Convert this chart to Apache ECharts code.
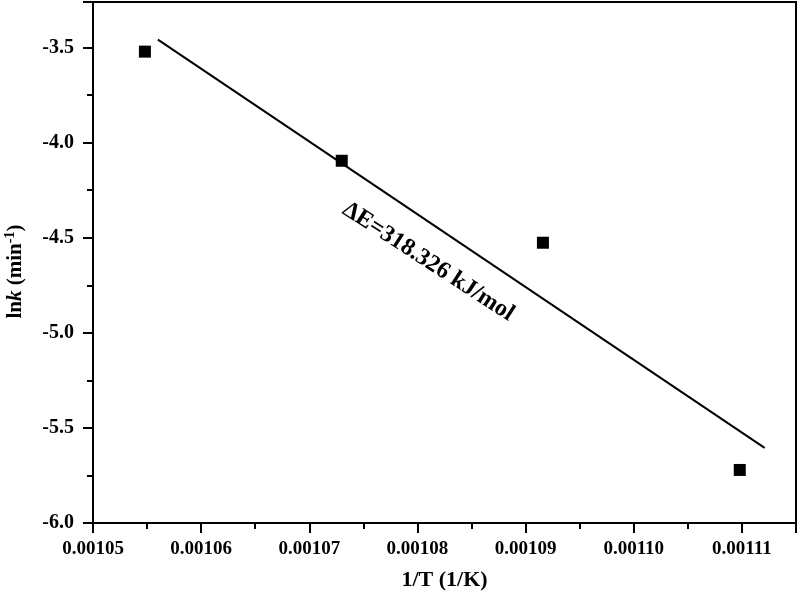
<!DOCTYPE html>
<html>
<head>
<meta charset="utf-8">
<script src="https://cdn.jsdelivr.net/npm/echarts@6/dist/echarts.min.js"></script>
<style>
  html, body { margin: 0; padding: 0; background: #fff; }
  #chart { width: 801px; height: 602px; }
</style>
</head>
<body>
<div id="chart"></div>
<script>
  // measured points: 1/T (1/K) vs ln k
  const invT = [0.0010548, 0.0010730, 0.0010916, 0.0011098];
  const lnK = [-3.521, -4.095, -4.526, -5.721];
  // linear fit line end points
  const fitX = [0.0010560, 0.0011121];
  const fitY = [-3.458, -5.605];
  // annotation
  const noteText = 'ΔE=318.326 kJ/mol';
  const notePos = [0.0010810, -4.626];

  const font = 'Liberation Serif';
  const chart = echarts.init(document.getElementById('chart'));

  chart.setOption({
    animation: false,
    grid: {
      left: 93, right: 5, top: 2, bottom: 79,
      outerBoundsMode: 'none',
      containLabel: false,
      show: true, borderColor: '#000', borderWidth: 2
    },
    xAxis: {
      type: 'value',
      min: 0.00105,
      max: 0.001115,
      interval: 0.00001,
      name: '1/T (1/K)',
      nameLocation: 'middle',
      nameGap: 46,
      nameTextStyle: { fontFamily: font, fontWeight: 'bold', fontSize: 22, color: '#000' },
      axisLine: { lineStyle: { color: '#000', width: 2 } },
      axisTick: { length: 10, lineStyle: { width: 2, color: '#000' } },
      minorTick: { show: true, splitNumber: 2, length: 6, lineStyle: { width: 2, color: '#000' } },
      splitLine: { show: false },
      axisLabel: {
        margin: 17, showMaxLabel: false,
        fontFamily: font, fontWeight: 'bold', fontSize: 19, color: '#000',
        formatter: v => v.toFixed(5)
      }
    },
    yAxis: {
      type: 'value',
      min: -6,
      max: -3.26,
      interval: 0.5,
      name: '{b|ln}{i|k}{b| (min}{s|-1}{b|)}',
      nameLocation: 'middle',
      nameRotate: 90,
      nameGap: 64,
      nameTextStyle: {
        fontFamily: font, fontWeight: 'bold', fontSize: 21, color: '#000',
        padding: [0, 18, 0, 0],
        rich: {
          b: { fontFamily: font, fontWeight: 'bold', fontSize: 21, color: '#000' },
          i: { fontFamily: font, fontWeight: 'bold', fontStyle: 'italic', fontSize: 21, color: '#000' },
          s: { fontFamily: font, fontWeight: 'bold', fontSize: 14, color: '#000', padding: [0, 0, 12, 0] }
        }
      },
      axisLine: { lineStyle: { color: '#000', width: 2 } },
      axisTick: { length: 10, lineStyle: { width: 2, color: '#000' } },
      minorTick: { show: true, splitNumber: 2, length: 6, lineStyle: { width: 2, color: '#000' } },
      splitLine: { show: false },
      axisLabel: {
        margin: 19, showMaxLabel: false,
        fontFamily: font, fontWeight: 'bold', fontSize: 20, color: '#000',
        formatter: v => v.toFixed(1)
      }
    },
    series: [
      {
        name: 'data',
        type: 'scatter',
        symbol: 'rect',
        symbolSize: 12,
        itemStyle: { color: '#000', opacity: 1 },
        data: invT.map((x, i) => [x, lnK[i]])
      },
      {
        name: 'fit',
        type: 'line',
        showSymbol: false,
        symbol: 'none',
        lineStyle: { color: '#000', width: 2, opacity: 1 },
        data: fitX.map((x, i) => [x, fitY[i]])
      },
      {
        name: 'note',
        type: 'scatter',
        symbolSize: 0,
        silent: true,
        itemStyle: { opacity: 1 },
        label: {
          show: true,
          position: 'inside',
          rotate: -33,
          formatter: noteText,
          fontFamily: font, fontWeight: 'bold', fontSize: 24, color: '#000', opacity: 1
        },
        data: [notePos]
      }
    ]
  });
</script>
</body>
</html>
